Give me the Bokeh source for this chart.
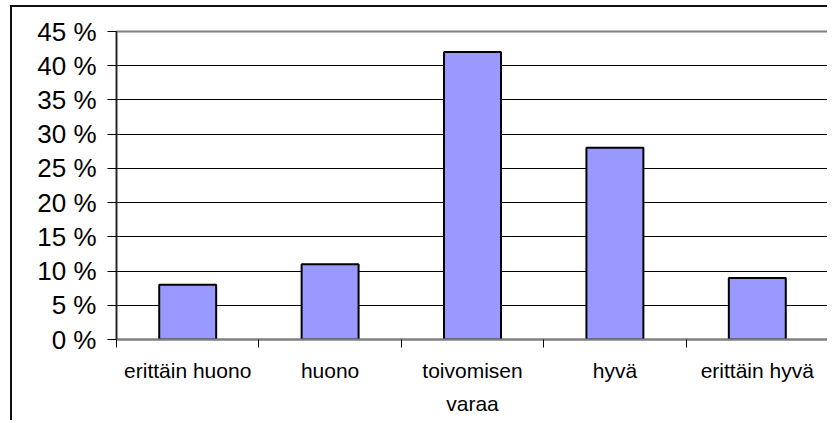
from bokeh.plotting import figure
from bokeh.models import FixedTicker, PrintfTickFormatter, Range1d
from bokeh.embed import file_html
from bokeh.resources import INLINE

categories = ["erittäin huono", "huono", "toivomisen\nvaraa", "hyvä", "erittäin hyvä"]
values = [8, 11, 42, 28, 9]
y_ticks = [0, 5, 10, 15, 20, 25, 30, 35, 40, 45]

n = len(categories)
xs = [i + 0.5 for i in range(n)]

p = figure(width=817, height=415, output_backend="svg", toolbar_location=None,
           x_range=Range1d(0, n), y_range=Range1d(0, 45),
           min_border_left=104, min_border_right=1, min_border_top=24, min_border_bottom=83)
p.styles = {"border-left": "2px solid #111", "border-top": "2px solid #111",
            "margin-left": "10px", "margin-top": "5px"}

p.vbar(x=xs, top=values, width=0.4, fill_color="#9999FF", line_color="black", line_width=2)

p.outline_line_color = "#808080"
p.outline_line_width = 2

p.xgrid.grid_line_color = None
p.ygrid.grid_line_color = "black"
p.ygrid.grid_line_width = 1
p.ygrid.ticker = FixedTicker(ticks=y_ticks)

ya = p.yaxis[0]
ya.ticker = FixedTicker(ticks=y_ticks)
ya.formatter = PrintfTickFormatter(format="%d %%")
ya.major_label_text_font = "Liberation Sans"
ya.major_label_text_font_size = "26px"
ya.major_label_text_color = "black"
ya.major_tick_out = 9
ya.major_tick_in = 0
ya.major_tick_line_color = "black"
ya.minor_tick_line_color = None
ya.axis_line_color = "#222222"
ya.axis_line_width = 1.5
ya.major_label_standoff = 11

xa = p.xaxis[0]
xa.ticker = FixedTicker(ticks=xs, minor_ticks=list(range(n + 1)))
xa.major_label_overrides = {x: c for x, c in zip(xs, categories)}
xa.major_tick_line_color = None
xa.minor_tick_line_color = "black"
xa.minor_tick_out = 8
xa.minor_tick_in = 0
xa.axis_line_color = "#808080"
xa.axis_line_width = 2
xa.major_label_text_font = "Liberation Sans"
xa.major_label_text_font_size = "21px"
xa.major_label_text_color = "black"
xa.major_label_text_line_height = 1.45
xa.major_label_standoff = 11

open("out.html", "w").write(file_html(p, INLINE))
